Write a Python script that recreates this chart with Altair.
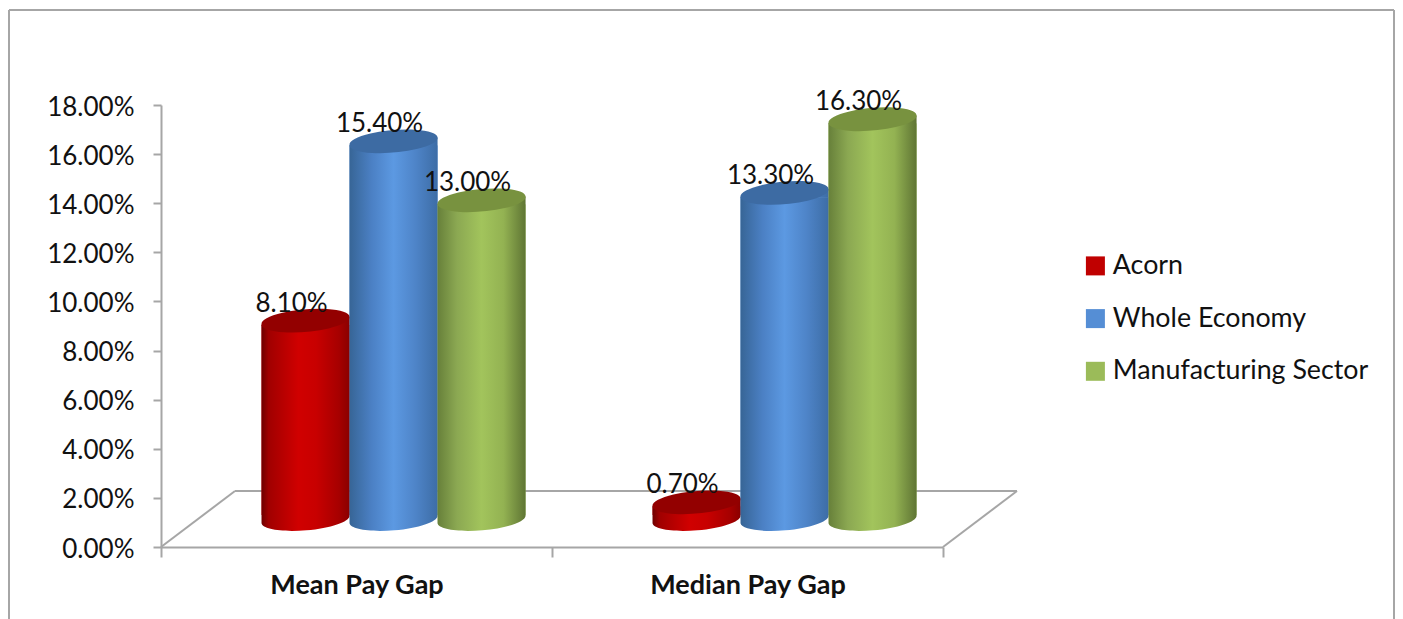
import altair as alt
import pandas as pd

groups = ["Mean Pay Gap", "Median Pay Gap"]
series = ["Acorn", "Whole Economy", "Manufacturing Sector"]
acorn = [0.081, 0.007]
whole_economy = [0.154, 0.133]
manufacturing = [0.130, 0.163]
legend_colors = ["#c00000", "#558ed5", "#9bbb59"]
top_colors = ["#930000", "#3d6ba3", "#78923f"]

rows = []
for s, vals in zip(series, [acorn, whole_economy, manufacturing]):
    for g, v in zip(groups, vals):
        rows.append({"group": g, "series": s, "value": v})
df = pd.DataFrame(rows)

GRAY = "#a6a6a6"
FONT = "Lato"
W, H = 856, 442
DX, DY = 37, 27.5
SHOULDER = 4.4


def grad(stops):
    return alt.LinearGradient(
        gradient="linear", x1=0, x2=1, y1=0, y2=0,
        stops=[alt.GradientStop(offset=o, color=c) for o, c in stops],
    )


grads = [
    grad([(0, "#6e0000"), (0.08, "#a00000"), (0.42, "#d00000"), (0.62, "#c80000"), (0.88, "#a60000"), (1, "#8a0000")]),
    grad([(0, "#376596"), (0.25, "#4b80c4"), (0.5, "#5c99e2"), (0.75, "#4e84c8"), (1, "#3d6da6")]),
    grad([(0, "#67803a"), (0.22, "#8ba852"), (0.5, "#a2c45c"), (0.75, "#93b252"), (1, "#5f7534")]),
]

ax_x = alt.Scale(domain=groups, range=[0, 782], paddingInner=0, paddingOuter=0)
ax_y = alt.Scale(domain=[0, 0.18], range=[H, 0])
cyl_x = alt.Scale(domain=groups, range=[DX, 782 + DX], paddingInner=0.325, paddingOuter=0.1625)
cyl_off = alt.Scale(domain=series, range=[0, 264], paddingInner=0, paddingOuter=0)
cyl_y = alt.Scale(domain=[0, 0.18], range=[H - DY, -DY])
body_y = alt.Scale(domain=[0, 0.18], range=[H - DY + SHOULDER, -DY + SHOULDER])

X = alt.X("group:N", scale=cyl_x, axis=None)
XO = alt.XOffset("series:N", scale=cyl_off)

ELLIPSE = "M-0.996,0.087A1,0.25,-5,1,1,0.996,-0.087A1,0.25,-5,1,1,-0.996,0.087Z"
BOTTOM = "M-0.996,-0.1L0.996,-0.1L0.996,-0.087A1,0.25,-5,0,1,-0.996,0.087Z"
SHOULDER_PATH = "M-0.996,0.087L-0.996,0.105L0.996,0.105L0.996,-0.087Z"
SIZE = 88.4 ** 2

axis_layer = alt.Chart(df).mark_bar(opacity=0).encode(
    x=alt.X("group:N", scale=ax_x, title=None, axis=alt.Axis(
        labelAngle=0, labelFont=FONT, labelFontSize=27, labelFontWeight="bold", labelColor="#111111",
        labelPadding=15, labelLimit=400, domainColor=GRAY, domainWidth=2, tickColor=GRAY, tickWidth=2,
        tickSize=10, tickBand="extent", grid=False)),
    y=alt.Y("value:Q", scale=ax_y, stack=None, title=None, axis=alt.Axis(
        values=[i / 100 for i in range(0, 20, 2)], format=".2%", labelFont=FONT, labelFontSize=26,
        labelColor="#111111", labelPadding=19, labelOffset=2, domainColor=GRAY, domainWidth=2,
        tickColor=GRAY, tickWidth=2, tickSize=8, grid=False)),
)

one = pd.DataFrame({"a": [0]})


def line(x, y, x2, y2):
    return alt.Chart(one).mark_rule(color=GRAY, strokeWidth=2).encode(
        x=alt.value(x), y=alt.value(y), x2=alt.value(x2), y2=alt.value(y2))


lines = [
    line(0, H, 74, H - 56), line(74, H - 56, W, H - 56), line(W, H - 56, 782, H),
    line(-152, -95, 1233, -95), line(-152, -95, -152, 520), line(1233, -95, 1233, 520),
]

legend_bars = alt.Chart(df).mark_bar().encode(
    x=X, xOffset=XO,
    y=alt.Y("value:Q", scale=body_y, stack=None, axis=None),
    y2=alt.datum(0.0036),
    color=alt.Color("series:N", scale=alt.Scale(domain=series, range=legend_colors), legend=alt.Legend(
        title=None, orient="none", legendX=921, legendY=147.5, symbolType="square", symbolSize=361,
        symbolStrokeWidth=0, labelFont=FONT, labelFontSize=26.8, labelColor="#111111", labelOffset=4,
        rowPadding=24.7, labelLimit=400)),
)

cyl_layers = [legend_bars]
for s, g, top in zip(series, grads, top_colors):
    d = df[df.series == s]
    enc = dict(x=X, xOffset=XO)
    pos = alt.Y("value:Q", scale=cyl_y, stack=None, axis=None)
    cyl_layers.append(alt.Chart(d).mark_bar(color=g).encode(
        y=alt.Y("value:Q", scale=body_y, stack=None, axis=None), y2=alt.datum(0.0036), **enc))
    cyl_layers.append(alt.Chart(d).mark_point(shape=BOTTOM, size=SIZE, filled=True, opacity=1, color=g).encode(
        y=alt.Y("zero:Q", scale=cyl_y, axis=None), **enc).transform_calculate(zero="0"))
    cyl_layers.append(alt.Chart(d).mark_point(shape=SHOULDER_PATH, size=SIZE, filled=True, opacity=1, color=g).encode(y=pos, **enc))
    cyl_layers.append(alt.Chart(d).mark_point(shape=ELLIPSE, size=SIZE, filled=True, opacity=1, color=top).encode(y=pos, **enc))

labels = alt.Chart(df).mark_text(font=FONT, fontSize=26, color="#111111", dx=-14, dy=-17, baseline="middle").encode(
    x=X, xOffset=XO,
    y=alt.Y("value:Q", scale=cyl_y, stack=None, axis=None),
    text=alt.Text("value:Q", format=".2%"),
)

chart = alt.layer(*lines[3:], axis_layer, *lines[:3], *cyl_layers, labels).resolve_scale(
    x="independent", y="independent"
).properties(
    width=W, height=H,
    padding={"left": 153, "top": 97, "right": 1387 - 153 - W, "bottom": 611 - 97 - H},
    autosize=alt.AutoSizeParams(type="none", contains="content"),
).configure_view(stroke=None)

chart.save("out.html", embed_options={"renderer": "svg", "actions": False})
